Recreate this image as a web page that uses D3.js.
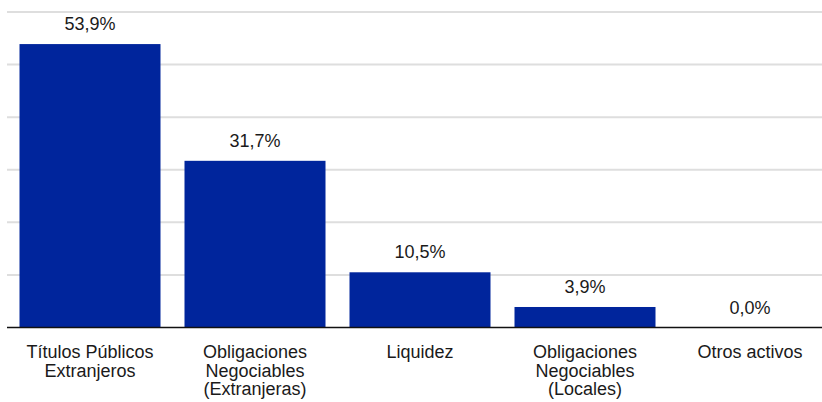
<!DOCTYPE html>
<html>
<head>
<meta charset="utf-8">
<script src="https://cdn.jsdelivr.net/npm/d3@7"></script>
<style>
  body { margin: 0; background: #fff; }
  text { font-family: "Liberation Sans", Arial, sans-serif; }
</style>
</head>
<body>
<div id="chart"></div>
<script>
// Data
var categories = [
  ["Títulos Públicos", "Extranjeros"],
  ["Obligaciones", "Negociables", "(Extranjeras)"],
  ["Liquidez"],
  ["Obligaciones", "Negociables", "(Locales)"],
  ["Otros activos"]
];
var values = [53.9, 31.7, 10.5, 3.9, 0.0];
var yTicks = [0, 10, 20, 30, 40, 50, 60];

var svgWidth = 822;
var svgHeight = 402;

var svg = d3.select("#chart")
  .append("svg")
  .attr("width", svgWidth)
  .attr("height", svgHeight);

// x bands: one step of 165px, plot runs past the right edge
var xScale = d3.scaleBand()
  .domain(d3.range(values.length))
  .range([7.5, 832.5])
  .paddingInner(24 / 165)
  .paddingOuter(12 / 165);

var yScale = d3.scaleLinear()
  .domain([0, 60])
  .range([327.5, 12]);

// gridlines
svg.append("g")
  .selectAll("line")
  .data(yTicks.filter(d => d > 0))
  .enter()
  .append("line")
  .attr("x1", 7)
  .attr("x2", svgWidth)
  .attr("y1", d => yScale(d))
  .attr("y2", d => yScale(d))
  .attr("stroke", "#dedede")
  .attr("stroke-width", 2);

// bars
svg.append("g")
  .selectAll("rect")
  .data(values)
  .enter()
  .append("rect")
  .attr("x", (d, i) => xScale(i))
  .attr("width", xScale.bandwidth())
  .attr("y", d => yScale(d))
  .attr("height", d => yScale(0) - yScale(d))
  .attr("fill", "#00259c");

// baseline
svg.append("line")
  .attr("x1", 7)
  .attr("x2", svgWidth)
  .attr("y1", yScale(0))
  .attr("y2", yScale(0))
  .attr("stroke", "#111")
  .attr("stroke-width", 1.5);

// value labels
svg.append("g")
  .selectAll("text")
  .data(values)
  .enter()
  .append("text")
  .attr("x", (d, i) => xScale(i) + xScale.bandwidth() / 2)
  .attr("y", d => yScale(d) - 14)
  .attr("text-anchor", "middle")
  .attr("font-size", "18px")
  .attr("fill", "#1a1a1a")
  .text(d => d.toFixed(1).replace(".", ",") + "%");

// category labels
var catGroup = svg.append("g");
categories.forEach(function(lines, i) {
  var t = catGroup.append("text")
    .attr("x", xScale(i) + xScale.bandwidth() / 2)
    .attr("y", 358)
    .attr("text-anchor", "middle")
    .attr("font-size", "18px")
    .attr("fill", "#1a1a1a");
  lines.forEach(function(line, j) {
    t.append("tspan")
      .attr("x", xScale(i) + xScale.bandwidth() / 2)
      .attr("y", 358 + j * 18.5)
      .text(line);
  });
});
</script>
</body>
</html>
